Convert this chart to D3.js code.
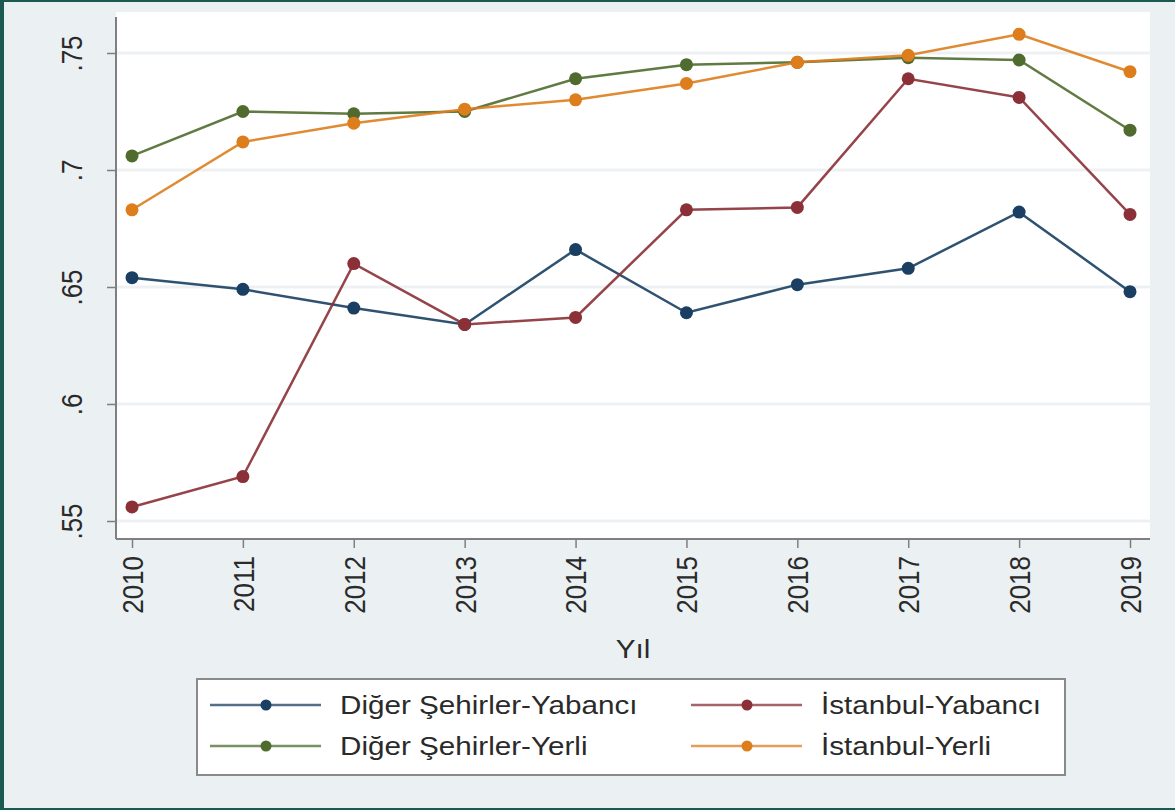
<!DOCTYPE html>
<html>
<head>
<meta charset="utf-8">
<script src="https://cdn.jsdelivr.net/npm/d3@7"></script>
<style>
  html, body { margin: 0; padding: 0; background: #1b5a50; }
  svg { display: block; font-family: "Liberation Sans", Arial, sans-serif; }
</style>
</head>
<body>
<div id="viz"></div>
<script>
// values
const years = [2010, 2011, 2012, 2013, 2014, 2015, 2016, 2017, 2018, 2019];
const digerYabanci = [0.654, 0.649, 0.641, 0.634, 0.666, 0.639, 0.651, 0.658, 0.682, 0.648];
const istanbulYabanci = [0.556, 0.569, 0.660, 0.634, 0.637, 0.683, 0.684, 0.739, 0.731, 0.681];
const digerYerli = [0.706, 0.725, 0.724, 0.725, 0.739, 0.745, 0.746, 0.748, 0.747, 0.717];
const istanbulYerli = [0.683, 0.712, 0.720, 0.726, 0.730, 0.737, 0.746, 0.749, 0.758, 0.742];
const yTicks = [0.55, 0.6, 0.65, 0.7, 0.75];
const seriesNames = ["Diğer Şehirler-Yabancı", "İstanbul-Yabancı", "Diğer Şehirler-Yerli", "İstanbul-Yerli"];
const seriesColors = ["#1a3f62", "#8a3036", "#4f6b2e", "#dd7d1c"];
const xTitle = "Yıl";

const width = 1175, height = 810;
const plot = { left: 116, right: 1150, top: 12, bottom: 539 };
const sx = 1.14; // text in the picture is a bit wider than Arial

const series = [digerYabanci, istanbulYabanci, digerYerli, istanbulYerli].map((vals, i) => ({
  name: seriesNames[i],
  color: seriesColors[i],
  values: years.map((yr, j) => ({ year: yr, v: vals[j] }))
}));

const x = d3.scaleLinear().domain([2010, 2019]).range([132, 1130]);
const y = d3.scaleLinear().domain([0.55, 0.75]).range([521, 53]);

const svg = d3.select("#viz").append("svg")
  .attr("width", width)
  .attr("height", height);

// outer frame: teal border on left/top/bottom
svg.append("rect")
  .attr("x", 4).attr("y", 2)
  .attr("width", width - 4).attr("height", height - 4)
  .attr("fill", "#ebf0f3");

// plot region
svg.append("rect")
  .attr("x", plot.left).attr("y", plot.top)
  .attr("width", plot.right - plot.left).attr("height", plot.bottom - plot.top)
  .attr("fill", "#ffffff");

// grid lines
svg.append("g").selectAll("line.grid")
  .data(yTicks).enter()
  .append("line")
  .attr("class", "grid")
  .attr("x1", plot.left).attr("x2", plot.right)
  .attr("y1", d => y(d)).attr("y2", d => y(d))
  .attr("stroke", "#edf1f3")
  .attr("stroke-width", 3);

// axis lines
svg.append("line")
  .attr("x1", plot.left).attr("x2", plot.left)
  .attr("y1", plot.top + 5).attr("y2", plot.bottom)
  .attr("stroke", "#7f7f7f").attr("stroke-width", 2);
svg.append("line")
  .attr("x1", plot.left).attr("x2", plot.right)
  .attr("y1", plot.bottom).attr("y2", plot.bottom)
  .attr("stroke", "#7f7f7f").attr("stroke-width", 2);

const fmtY = d => d3.format(".2f")(d).replace(/^0/, "").replace(/0$/, "");

// y axis
const yAxis = svg.append("g")
  .attr("transform", `translate(${plot.left},0)`)
  .call(d3.axisLeft(y).tickValues(yTicks).tickSize(9).tickFormat(fmtY));
yAxis.select(".domain").remove();
yAxis.selectAll(".tick line").attr("stroke", "#7f7f7f").attr("stroke-width", 1.5);
yAxis.selectAll(".tick text")
  .attr("x", null).attr("dy", null)
  .attr("transform", `translate(-34,0) scale(${sx},1) rotate(-90)`)
  .attr("text-anchor", "middle")
  .attr("fill", "#2a2a2a")
  .style("font-size", "26px")
  .style("font-family", "'Liberation Sans', Arial, sans-serif");

// x axis
const xAxis = svg.append("g")
  .attr("transform", `translate(0,${plot.bottom})`)
  .call(d3.axisBottom(x).tickValues(years).tickSize(9).tickFormat(d3.format("d")));
xAxis.select(".domain").remove();
xAxis.selectAll(".tick line").attr("stroke", "#7f7f7f").attr("stroke-width", 1.5);
xAxis.selectAll(".tick text")
  .attr("y", null).attr("dy", "0.35em")
  .attr("transform", `translate(0,17) scale(${sx},1) rotate(-90)`)
  .attr("text-anchor", "end")
  .attr("fill", "#2a2a2a")
  .style("font-size", "26px")
  .style("font-family", "'Liberation Sans', Arial, sans-serif");

// x title
svg.append("text")
  .attr("transform", `translate(${(plot.left + plot.right) / 2},658) scale(${sx},1)`)
  .attr("text-anchor", "middle")
  .attr("fill", "#2a2a2a")
  .style("font-size", "26px")
  .text(xTitle);

// lines + markers
const line = d3.line()
  .x(d => x(d.year))
  .y(d => y(d.v));

const sg = svg.append("g").selectAll("g.series")
  .data(series).enter()
  .append("g").attr("class", "series");

sg.append("path")
  .attr("d", d => line(d.values))
  .attr("fill", "none")
  .attr("stroke", d => d.color)
  .attr("stroke-width", 2.5)
  .attr("stroke-opacity", 0.9);

sg.selectAll("circle")
  .data(d => d.values.map(p => ({ ...p, color: d.color })))
  .enter()
  .append("circle")
  .attr("cx", d => x(d.year))
  .attr("cy", d => y(d.v))
  .attr("r", 6.5)
  .attr("fill", d => d.color);

// legend
const legend = svg.append("g");
legend.append("rect")
  .attr("x", 197).attr("y", 679)
  .attr("width", 868).attr("height", 96)
  .attr("fill", "#ffffff")
  .attr("stroke", "#8a8a8a")
  .attr("stroke-width", 2);

const legX = [210, 691];
const legY = [705, 746];
const items = legend.selectAll("g.item")
  .data(series).enter()
  .append("g").attr("class", "item")
  .attr("transform", (d, i) => `translate(${legX[i % 2]},${legY[Math.floor(i / 2)]})`);

items.append("line")
  .attr("x1", 0).attr("x2", 111)
  .attr("stroke", d => d.color)
  .attr("stroke-width", 2.5)
  .attr("stroke-opacity", 0.75);
items.append("circle")
  .attr("cx", 56).attr("r", 5.5)
  .attr("fill", d => d.color);
items.append("text")
  .attr("transform", `translate(130,0) scale(${sx},1)`)
  .attr("dy", "0.35em")
  .attr("fill", "#2a2a2a")
  .style("font-size", "26px")
  .text(d => d.name);
</script>
</body>
</html>
